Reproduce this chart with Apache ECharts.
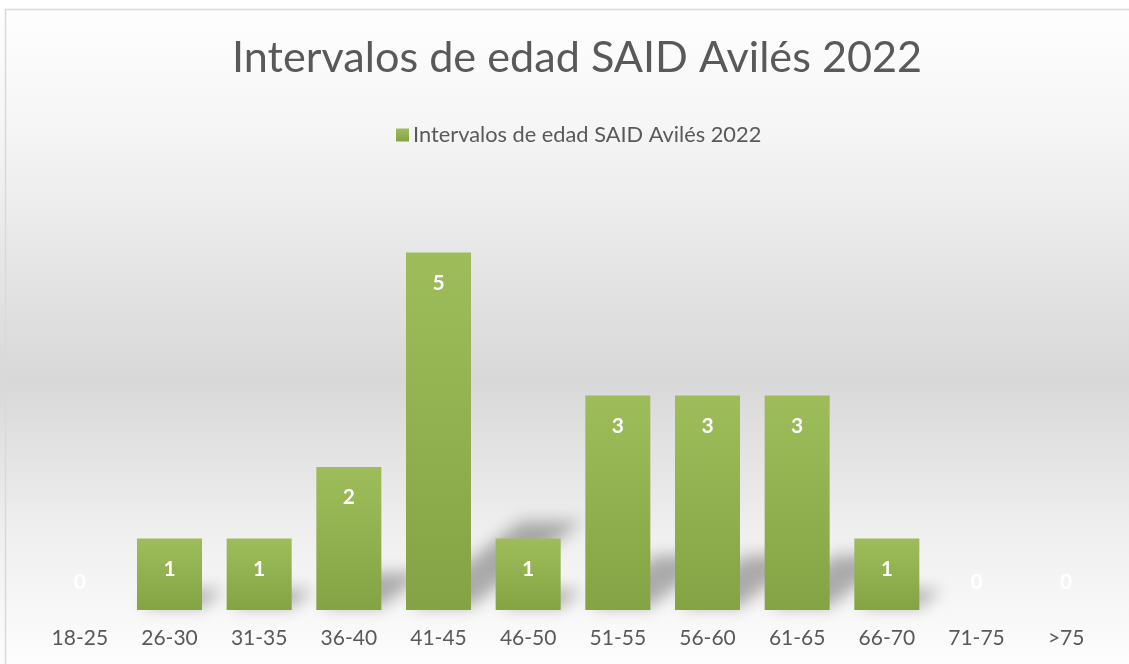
<!DOCTYPE html>
<html>
<head>
<meta charset="utf-8">
<script src="https://cdn.jsdelivr.net/npm/echarts@6/dist/echarts.min.js"></script>
<style>
  html, body { margin: 0; padding: 0; background: #fff; }
  #main { width: 1129px; height: 664px; }
</style>
</head>
<body>
<div id="main"></div>
<script>
// datos del gráfico
const categories = ['18-25', '26-30', '31-35', '36-40', '41-45', '46-50', '51-55', '56-60', '61-65', '66-70', '71-75', '>75']
const counts = [0, 1, 1, 2, 5, 1, 3, 3, 3, 1, 0, 0]
const seriesName = 'Intervalos de edad SAID Avilés 2022'

const textColor = '#595959'
const barWidthRatio = 0.725

var myChart = echarts.init(document.getElementById('main'))

// sombra inclinada detrás de cada barra (sólo se ve la sombra difuminada)
function renderShadow(params, api) {
  let idx = api.value(0)
  let val = api.value(1)
  if (!val) return
  let top = api.coord([idx, val])
  let base = api.coord([idx, 0])
  let band = api.size([1, 0])[0]
  let w = band * barWidthRatio
  let h = base[1] - top[1]
  let off = 3000
  let x0 = base[0] - w / 2 + 4 - off
  let x1 = base[0] + w / 2 - off
  let dx = h * 0.31
  let dy = h * 0.24
  let y0 = base[1] - 3
  return {
    type: 'polygon',
    shape: {
      points: [[x0, y0], [x1, y0], [x1 + dx, y0 - dy], [x0 + dx, y0 - dy]]
    },
    style: {
      fill: '#000',
      shadowBlur: 16,
      shadowOffsetX: off,
      shadowColor: 'rgba(0,0,0,0.3)'
    }
  }
}

var option = {
  backgroundColor: {
    type: 'linear', x: 0, y: 0, x2: 0, y2: 1,
    colorStops: [
      { offset: 0, color: '#ffffff' },
      { offset: 0.2, color: '#f5f5f5' },
      { offset: 0.57, color: '#d8d8d8' },
      { offset: 0.8, color: '#efefef' },
      { offset: 1, color: '#fdfdfd' }
    ]
  },
  title: {
    text: seriesName,
    left: 227,
    top: 32,
    textStyle: {
      fontFamily: 'Lato',
      fontWeight: 400,
      fontSize: 43.2,
      color: textColor
    }
  },
  legend: {
    top: 119,
    left: 391,
    itemWidth: 13,
    itemHeight: 13,
    itemGap: 5,
    icon: 'rect',
    textStyle: { fontFamily: 'Lato', fontSize: 21.8, color: textColor, padding: [0, 0, 0, -1] },
    data: [seriesName]
  },
  grid: { left: 35, right: 18, top: 181, bottom: 54 },
  graphic: [{
    type: 'rect',
    shape: { x: 5.5, y: 9.5, width: 1200, height: 700 },
    style: { fill: 'none', stroke: '#d9d9d9', lineWidth: 1.5 },
    z: 100
  }],
  xAxis: {
    type: 'category',
    data: categories,
    axisLine: { show: false },
    axisTick: { show: false },
    axisLabel: { fontFamily: 'Lato', fontSize: 21, color: textColor, margin: 18 }
  },
  yAxis: {
    type: 'value',
    min: 0,
    max: 6,
    show: false,
    splitLine: { show: false }
  },
  series: [
    {
      type: 'custom',
      renderItem: renderShadow,
      data: counts.map((v, i) => [i, v]),
      encode: { x: 0, y: 1 },
      clip: false,
      silent: true,
      z: 1
    },
    {
      name: seriesName,
      type: 'bar',
      barWidth: (barWidthRatio * 100) + '%',
      z: 2,
      data: counts.map(v => ({
        value: v,
        label: v === 0 ? { position: 'top', distance: 17 } : undefined
      })),
      itemStyle: {
        color: {
          type: 'linear', x: 0, y: 0, x2: 0, y2: 1,
          colorStops: [
            { offset: 0, color: '#9ebd5a' },
            { offset: 1, color: '#84a344' }
          ]
        }
      },
      label: {
        show: true,
        position: 'insideTop',
        distance: 20,
        color: '#ffffff',
        fontFamily: 'Lato',
        fontWeight: 'bold',
        fontSize: 21
      }
    }
  ]
}

myChart.setOption(option)
</script>
</body>
</html>
